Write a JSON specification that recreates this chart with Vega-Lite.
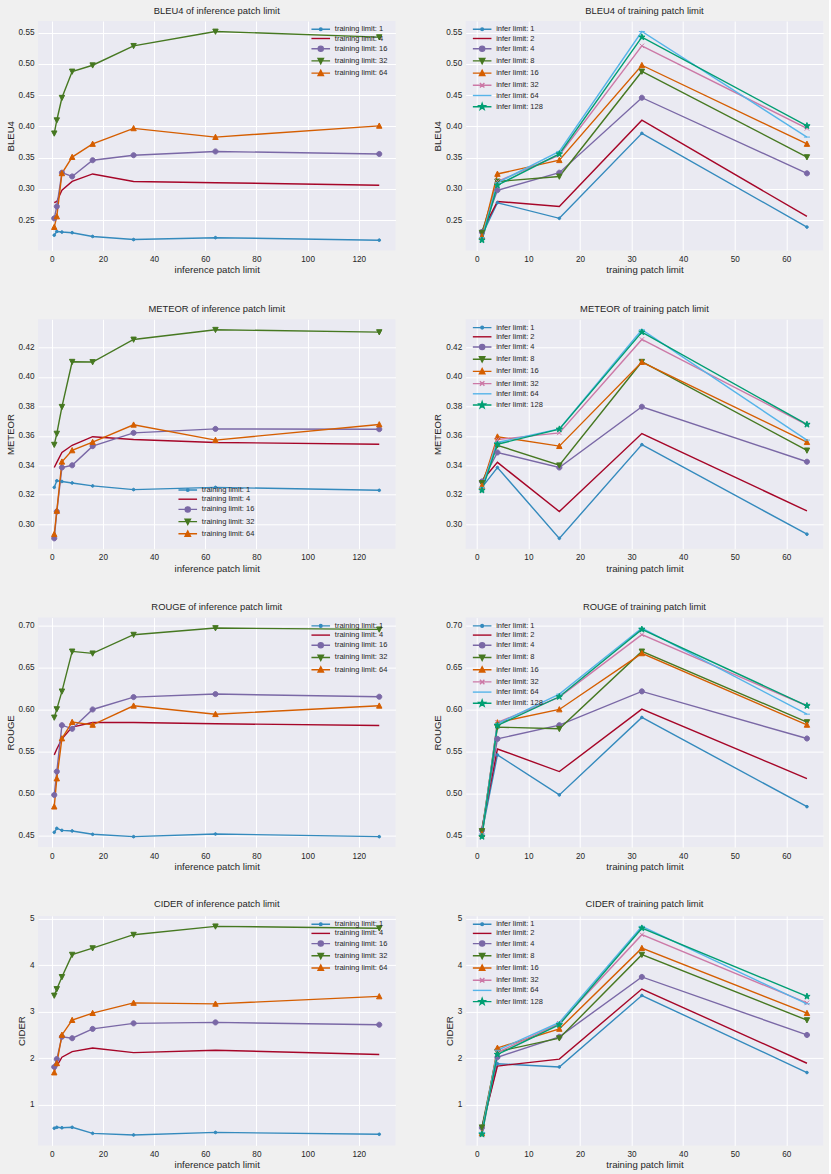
{
"$schema": "https://vega.github.io/schema/vega-lite/v6.json",
"background": "#F0F0F0",
"padding": {"left": 5, "top": 5, "right": 5, "bottom": 5},
"bounds": "flush",
"columns": 2,
"spacing": {"row": 68.3, "column": 69.7},
"datasets": {"s": [
{"m":"BLEU4","t":1,"i":1,"v":0.226},{"m":"BLEU4","t":1,"i":2,"v":0.232},{"m":"BLEU4","t":1,"i":4,"v":0.231},{"m":"BLEU4","t":1,"i":8,"v":0.230},{"m":"BLEU4","t":1,"i":16,"v":0.224},{"m":"BLEU4","t":1,"i":32,"v":0.219},{"m":"BLEU4","t":1,"i":64,"v":0.222},{"m":"BLEU4","t":1,"i":128,"v":0.218},
{"m":"BLEU4","t":4,"i":1,"v":0.278},{"m":"BLEU4","t":4,"i":2,"v":0.280},{"m":"BLEU4","t":4,"i":4,"v":0.298},{"m":"BLEU4","t":4,"i":8,"v":0.312},{"m":"BLEU4","t":4,"i":16,"v":0.324},{"m":"BLEU4","t":4,"i":32,"v":0.312},{"m":"BLEU4","t":4,"i":64,"v":0.310},{"m":"BLEU4","t":4,"i":128,"v":0.306},
{"m":"BLEU4","t":16,"i":1,"v":0.253},{"m":"BLEU4","t":16,"i":2,"v":0.272},{"m":"BLEU4","t":16,"i":4,"v":0.326},{"m":"BLEU4","t":16,"i":8,"v":0.320},{"m":"BLEU4","t":16,"i":16,"v":0.346},{"m":"BLEU4","t":16,"i":32,"v":0.354},{"m":"BLEU4","t":16,"i":64,"v":0.360},{"m":"BLEU4","t":16,"i":128,"v":0.356},
{"m":"BLEU4","t":32,"i":1,"v":0.389},{"m":"BLEU4","t":32,"i":2,"v":0.410},{"m":"BLEU4","t":32,"i":4,"v":0.446},{"m":"BLEU4","t":32,"i":8,"v":0.488},{"m":"BLEU4","t":32,"i":16,"v":0.498},{"m":"BLEU4","t":32,"i":32,"v":0.529},{"m":"BLEU4","t":32,"i":64,"v":0.552},{"m":"BLEU4","t":32,"i":128,"v":0.543},
{"m":"BLEU4","t":64,"i":1,"v":0.239},{"m":"BLEU4","t":64,"i":2,"v":0.256},{"m":"BLEU4","t":64,"i":4,"v":0.325},{"m":"BLEU4","t":64,"i":8,"v":0.351},{"m":"BLEU4","t":64,"i":16,"v":0.372},{"m":"BLEU4","t":64,"i":32,"v":0.397},{"m":"BLEU4","t":64,"i":64,"v":0.383},{"m":"BLEU4","t":64,"i":128,"v":0.401},
{"m":"METEOR","t":1,"i":1,"v":0.325},{"m":"METEOR","t":1,"i":2,"v":0.3295},{"m":"METEOR","t":1,"i":4,"v":0.329},{"m":"METEOR","t":1,"i":8,"v":0.328},{"m":"METEOR","t":1,"i":16,"v":0.326},{"m":"METEOR","t":1,"i":32,"v":0.3235},{"m":"METEOR","t":1,"i":64,"v":0.325},{"m":"METEOR","t":1,"i":128,"v":0.323},
{"m":"METEOR","t":4,"i":1,"v":0.3385},{"m":"METEOR","t":4,"i":2,"v":0.342},{"m":"METEOR","t":4,"i":4,"v":0.3487},{"m":"METEOR","t":4,"i":8,"v":0.3536},{"m":"METEOR","t":4,"i":16,"v":0.3594},{"m":"METEOR","t":4,"i":32,"v":0.3575},{"m":"METEOR","t":4,"i":64,"v":0.3555},{"m":"METEOR","t":4,"i":128,"v":0.3543},
{"m":"METEOR","t":16,"i":1,"v":0.2904},{"m":"METEOR","t":16,"i":2,"v":0.3086},{"m":"METEOR","t":16,"i":4,"v":0.3385},{"m":"METEOR","t":16,"i":8,"v":0.340},{"m":"METEOR","t":16,"i":16,"v":0.353},{"m":"METEOR","t":16,"i":32,"v":0.362},{"m":"METEOR","t":16,"i":64,"v":0.3647},{"m":"METEOR","t":16,"i":128,"v":0.3645},
{"m":"METEOR","t":32,"i":1,"v":0.354},{"m":"METEOR","t":32,"i":2,"v":0.3615},{"m":"METEOR","t":32,"i":4,"v":0.3797},{"m":"METEOR","t":32,"i":8,"v":0.4103},{"m":"METEOR","t":32,"i":16,"v":0.4101},{"m":"METEOR","t":32,"i":32,"v":0.4254},{"m":"METEOR","t":32,"i":64,"v":0.432},{"m":"METEOR","t":32,"i":128,"v":0.4304},
{"m":"METEOR","t":64,"i":1,"v":0.2932},{"m":"METEOR","t":64,"i":2,"v":0.309},{"m":"METEOR","t":64,"i":4,"v":0.3424},{"m":"METEOR","t":64,"i":8,"v":0.3501},{"m":"METEOR","t":64,"i":16,"v":0.3557},{"m":"METEOR","t":64,"i":32,"v":0.3675},{"m":"METEOR","t":64,"i":64,"v":0.3571},{"m":"METEOR","t":64,"i":128,"v":0.3677},
{"m":"ROUGE","t":1,"i":1,"v":0.454},{"m":"ROUGE","t":1,"i":2,"v":0.4587},{"m":"ROUGE","t":1,"i":4,"v":0.4563},{"m":"ROUGE","t":1,"i":8,"v":0.4556},{"m":"ROUGE","t":1,"i":16,"v":0.4516},{"m":"ROUGE","t":1,"i":32,"v":0.4488},{"m":"ROUGE","t":1,"i":64,"v":0.452},{"m":"ROUGE","t":1,"i":128,"v":0.4488},
{"m":"ROUGE","t":4,"i":1,"v":0.546},{"m":"ROUGE","t":4,"i":2,"v":0.553},{"m":"ROUGE","t":4,"i":4,"v":0.565},{"m":"ROUGE","t":4,"i":8,"v":0.579},{"m":"ROUGE","t":4,"i":16,"v":0.5845},{"m":"ROUGE","t":4,"i":32,"v":0.5845},{"m":"ROUGE","t":4,"i":64,"v":0.583},{"m":"ROUGE","t":4,"i":128,"v":0.581},
{"m":"ROUGE","t":16,"i":1,"v":0.4984},{"m":"ROUGE","t":16,"i":2,"v":0.5262},{"m":"ROUGE","t":16,"i":4,"v":0.5813},{"m":"ROUGE","t":16,"i":8,"v":0.577},{"m":"ROUGE","t":16,"i":16,"v":0.600},{"m":"ROUGE","t":16,"i":32,"v":0.6147},{"m":"ROUGE","t":16,"i":64,"v":0.6183},{"m":"ROUGE","t":16,"i":128,"v":0.6151},
{"m":"ROUGE","t":32,"i":1,"v":0.5905},{"m":"ROUGE","t":32,"i":2,"v":0.6004},{"m":"ROUGE","t":32,"i":4,"v":0.6215},{"m":"ROUGE","t":32,"i":8,"v":0.669},{"m":"ROUGE","t":32,"i":16,"v":0.6667},{"m":"ROUGE","t":32,"i":32,"v":0.6889},{"m":"ROUGE","t":32,"i":64,"v":0.6968},{"m":"ROUGE","t":32,"i":128,"v":0.6952},
{"m":"ROUGE","t":64,"i":1,"v":0.4845},{"m":"ROUGE","t":64,"i":2,"v":0.5179},{"m":"ROUGE","t":64,"i":4,"v":0.5655},{"m":"ROUGE","t":64,"i":8,"v":0.585},{"m":"ROUGE","t":64,"i":16,"v":0.5817},{"m":"ROUGE","t":64,"i":32,"v":0.6044},{"m":"ROUGE","t":64,"i":64,"v":0.5944},{"m":"ROUGE","t":64,"i":128,"v":0.6044},
{"m":"CIDER","t":1,"i":1,"v":0.49},{"m":"CIDER","t":1,"i":2,"v":0.51},{"m":"CIDER","t":1,"i":4,"v":0.50},{"m":"CIDER","t":1,"i":8,"v":0.51},{"m":"CIDER","t":1,"i":16,"v":0.38},{"m":"CIDER","t":1,"i":32,"v":0.345},{"m":"CIDER","t":1,"i":64,"v":0.40},{"m":"CIDER","t":1,"i":128,"v":0.36},
{"m":"CIDER","t":4,"i":1,"v":1.88},{"m":"CIDER","t":4,"i":2,"v":1.83},{"m":"CIDER","t":4,"i":4,"v":2.02},{"m":"CIDER","t":4,"i":8,"v":2.14},{"m":"CIDER","t":4,"i":16,"v":2.22},{"m":"CIDER","t":4,"i":32,"v":2.12},{"m":"CIDER","t":4,"i":64,"v":2.17},{"m":"CIDER","t":4,"i":128,"v":2.08},
{"m":"CIDER","t":16,"i":1,"v":1.81},{"m":"CIDER","t":16,"i":2,"v":1.98},{"m":"CIDER","t":16,"i":4,"v":2.46},{"m":"CIDER","t":16,"i":8,"v":2.43},{"m":"CIDER","t":16,"i":16,"v":2.63},{"m":"CIDER","t":16,"i":32,"v":2.75},{"m":"CIDER","t":16,"i":64,"v":2.77},{"m":"CIDER","t":16,"i":128,"v":2.72},
{"m":"CIDER","t":32,"i":1,"v":3.35},{"m":"CIDER","t":32,"i":2,"v":3.49},{"m":"CIDER","t":32,"i":4,"v":3.75},{"m":"CIDER","t":32,"i":8,"v":4.23},{"m":"CIDER","t":32,"i":16,"v":4.37},{"m":"CIDER","t":32,"i":32,"v":4.66},{"m":"CIDER","t":32,"i":64,"v":4.84},{"m":"CIDER","t":32,"i":128,"v":4.80},
{"m":"CIDER","t":64,"i":1,"v":1.69},{"m":"CIDER","t":64,"i":2,"v":1.89},{"m":"CIDER","t":64,"i":4,"v":2.50},{"m":"CIDER","t":64,"i":8,"v":2.82},{"m":"CIDER","t":64,"i":16,"v":2.97},{"m":"CIDER","t":64,"i":32,"v":3.19},{"m":"CIDER","t":64,"i":64,"v":3.17},{"m":"CIDER","t":64,"i":128,"v":3.33}
]},
"resolve": {"scale": {"x": "independent", "y": "independent", "color": "independent", "fill": "independent", "stroke": "independent", "shape": "independent"}},
"concat": [
{
 "width": 357.5, "height": 229.5, "title": "BLEU4 of inference patch limit",
 "data": {"name": "s"}, "transform": [{"filter": "datum.m=='BLEU4'"}],
 "encoding": {
  "x": {"field": "i", "type": "quantitative", "title": "inference patch limit", "scale": {"domain": [-5.35, 134.35], "nice": false, "zero": false}, "axis": {"values": [0,20,40,60,80,100,120], "format": "d"}},
  "y": {"field": "v", "type": "quantitative", "title": "BLEU4", "scale": {"domain": [0.2015, 0.5688], "nice": false, "zero": false}, "axis": {"values": [0.25,0.3,0.35,0.4,0.45,0.5,0.55], "format": ".2f"}}
 },
 "layer": [
  {"mark": {"type": "line", "strokeWidth": 1.4},
   "encoding": {"color": {"field": "t", "type": "nominal", "scale": {"domain": [1,4,16,32,64], "range": ["#348ABD","#A60628","#7A68A6","#467821","#D55E00"]},
    "legend": {"title": null, "orient": "none", "legendX": 273.4, "legendY": 4.3, "labelExpr": "'training limit: ' + datum.label",
     "encode": {"labels": {"update": {"x": {"value": 23.4}}}, "symbols": {"update": {
      "x": {"value": 9.35}, "size": {"value": 36}, "strokeWidth": {"value": 1.4},
      "shape": {"signal": "datum.value==1?'M-3.1,0L3.1,0M-0.45,0A0.45,0.45 0 1,0 0.45,0A0.45,0.45 0 1,0 -0.45,0Z':datum.value==4?'M-3.1,0L3.1,0':datum.value==16?'M-3.1,0L3.1,0M-0.85,0A0.85,0.85 0 1,0 0.85,0A0.85,0.85 0 1,0 -0.85,0Z':datum.value==32?'M-3.1,0L3.1,0M-0.9,-0.8L0.9,-0.8L0,0.95Z':'M-3.1,0L3.1,0M-0.9,0.8L0.9,0.8L0,-0.95Z'"},
      "fill": {"signal": "datum.value==1?'#348ABD':datum.value==4?'#A60628':datum.value==16?'#7A68A6':datum.value==32?'#467821':'#D55E00'"}
     }}}}}}},
  {"mark": {"type": "point", "filled": true, "size": 36, "strokeWidth": 1, "opacity": 1},
   "encoding": {
    "fill": {"field": "t", "type": "nominal", "scale": {"domain": [1,4,16,32,64,-1], "range": ["#348ABD","#A60628","#7A68A6","#467821","#D55E00","#000000"]}, "legend": null},
    "stroke": {"field": "t", "type": "nominal", "scale": {"domain": [1,4,16,32,64,-1], "range": ["#348ABD","#A60628","#7A68A6","#467821","#D55E00","#000000"]}, "legend": null},
    "shape": {"field": "t", "type": "nominal", "scale": {"domain": [1,4,16,32,64,-1], "range": ["M-0.45,0A0.45,0.45 0 1,0 0.45,0A0.45,0.45 0 1,0 -0.45,0Z","M0,0","M-0.85,0A0.85,0.85 0 1,0 0.85,0A0.85,0.85 0 1,0 -0.85,0Z","M-0.9,-0.8L0.9,-0.8L0,0.95Z","M-0.9,0.8L0.9,0.8L0,-0.95Z","M0,0"]}, "legend": null}
   }}
 ]
},
{
 "width": 357.5, "height": 229.5, "title": "BLEU4 of training patch limit",
 "data": {"name": "s"}, "transform": [{"filter": "datum.m=='BLEU4'"}],
 "encoding": {
  "x": {"field": "t", "type": "quantitative", "title": "training patch limit", "scale": {"domain": [-2.15, 67.15], "nice": false, "zero": false}, "axis": {"values": [0,10,20,30,40,50,60], "format": "d"}},
  "y": {"field": "v", "type": "quantitative", "title": "BLEU4", "scale": {"domain": [0.2015, 0.5688], "nice": false, "zero": false}, "axis": {"values": [0.25,0.3,0.35,0.4,0.45,0.5,0.55], "format": ".2f"}}
 },
 "layer": [
  {"mark": {"type": "line", "strokeWidth": 1.4},
   "encoding": {"color": {"field": "i", "type": "nominal", "scale": {"domain": [1,2,4,8,16,32,64,128], "range": ["#348ABD","#A60628","#7A68A6","#467821","#D55E00","#CC79A7","#56B4E9","#009E73"]},
    "legend": {"title": null, "orient": "none", "legendX": 7.1, "legendY": 4.3, "labelExpr": "'infer limit: ' + datum.label",
     "encode": {"labels": {"update": {"x": {"value": 23.4}}}, "symbols": {"update": {
      "x": {"value": 9.35}, "size": {"value": 36}, "strokeWidth": {"value": 1.4},
      "shape": {"signal": "datum.value==1?'M-3.1,0L3.1,0M-0.45,0A0.45,0.45 0 1,0 0.45,0A0.45,0.45 0 1,0 -0.45,0Z':datum.value==2?'M-3.1,0L3.1,0':datum.value==4?'M-3.1,0L3.1,0M-0.85,0A0.85,0.85 0 1,0 0.85,0A0.85,0.85 0 1,0 -0.85,0Z':datum.value==8?'M-3.1,0L3.1,0M-0.9,-0.8L0.9,-0.8L0,0.95Z':datum.value==16?'M-3.1,0L3.1,0M-0.9,0.8L0.9,0.8L0,-0.95Z':datum.value==32?'M-3.1,0L3.1,0M-0.75,-0.75L0.75,0.75M-0.75,0.75L0.75,-0.75':datum.value==64?'M-3.1,0L3.1,0':'M-3.1,0L3.1,0M0,-1.1L0.26,-0.36L1.05,-0.34L0.42,0.14L0.65,0.89L0,0.44L-0.65,0.89L-0.42,0.14L-1.05,-0.34L-0.26,-0.36Z'"},
      "fill": {"signal": "datum.value==1?'#348ABD':datum.value==2?'#A60628':datum.value==4?'#7A68A6':datum.value==8?'#467821':datum.value==16?'#D55E00':datum.value==32?'#CC79A7':datum.value==64?'#56B4E9':'#009E73'"}
     }}}}}}},
  {"mark": {"type": "point", "filled": true, "size": 36, "strokeWidth": 1, "opacity": 1},
   "encoding": {
    "fill": {"field": "i", "type": "nominal", "scale": {"domain": [1,2,4,8,16,32,64,128,-1], "range": ["#348ABD","#A60628","#7A68A6","#467821","#D55E00","#CC79A7","#56B4E9","#009E73","#000000"]}, "legend": null},
    "stroke": {"field": "i", "type": "nominal", "scale": {"domain": [1,2,4,8,16,32,64,128,-1], "range": ["#348ABD","#A60628","#7A68A6","#467821","#D55E00","#CC79A7","#56B4E9","#009E73","#000000"]}, "legend": null},
    "shape": {"field": "i", "type": "nominal", "scale": {"domain": [1,2,4,8,16,32,64,128,-1], "range": ["M-0.45,0A0.45,0.45 0 1,0 0.45,0A0.45,0.45 0 1,0 -0.45,0Z","M0,0","M-0.85,0A0.85,0.85 0 1,0 0.85,0A0.85,0.85 0 1,0 -0.85,0Z","M-0.9,-0.8L0.9,-0.8L0,0.95Z","M-0.9,0.8L0.9,0.8L0,-0.95Z","M-0.75,-0.75L0.75,0.75M-0.75,0.75L0.75,-0.75","M-1,0L1,0","M0,-1.1L0.26,-0.36L1.05,-0.34L0.42,0.14L0.65,0.89L0,0.44L-0.65,0.89L-0.42,0.14L-1.05,-0.34L-0.26,-0.36Z","M0,0"]}, "legend": null}
   }}
 ]
},
{
 "width": 357.5, "height": 229.5, "title": "METEOR of inference patch limit",
 "data": {"name": "s"}, "transform": [{"filter": "datum.m=='METEOR'"}],
 "encoding": {
  "x": {"field": "i", "type": "quantitative", "title": "inference patch limit", "scale": {"domain": [-5.35, 134.35], "nice": false, "zero": false}, "axis": {"values": [0,20,40,60,80,100,120], "format": "d"}},
  "y": {"field": "v", "type": "quantitative", "title": "METEOR", "scale": {"domain": [0.2833, 0.4391], "nice": false, "zero": false}, "axis": {"values": [0.30,0.32,0.34,0.36,0.38,0.40,0.42], "format": ".2f"}}
 },
 "layer": [
  {"mark": {"type": "line", "strokeWidth": 1.4},
   "encoding": {"color": {"field": "t", "type": "nominal", "scale": {"domain": [1,4,16,32,64], "range": ["#348ABD","#A60628","#7A68A6","#467821","#D55E00"]},
    "legend": {"title": null, "orient": "none", "legendX": 140.4, "legendY": 166.7, "labelExpr": "'training limit: ' + datum.label",
     "encode": {"labels": {"update": {"x": {"value": 23.4}}}, "symbols": {"update": {
      "x": {"value": 9.35}, "size": {"value": 36}, "strokeWidth": {"value": 1.4},
      "shape": {"signal": "datum.value==1?'M-3.1,0L3.1,0M-0.45,0A0.45,0.45 0 1,0 0.45,0A0.45,0.45 0 1,0 -0.45,0Z':datum.value==4?'M-3.1,0L3.1,0':datum.value==16?'M-3.1,0L3.1,0M-0.85,0A0.85,0.85 0 1,0 0.85,0A0.85,0.85 0 1,0 -0.85,0Z':datum.value==32?'M-3.1,0L3.1,0M-0.9,-0.8L0.9,-0.8L0,0.95Z':'M-3.1,0L3.1,0M-0.9,0.8L0.9,0.8L0,-0.95Z'"},
      "fill": {"signal": "datum.value==1?'#348ABD':datum.value==4?'#A60628':datum.value==16?'#7A68A6':datum.value==32?'#467821':'#D55E00'"}
     }}}}}}},
  {"mark": {"type": "point", "filled": true, "size": 36, "strokeWidth": 1, "opacity": 1},
   "encoding": {
    "fill": {"field": "t", "type": "nominal", "scale": {"domain": [1,4,16,32,64,-1], "range": ["#348ABD","#A60628","#7A68A6","#467821","#D55E00","#000000"]}, "legend": null},
    "stroke": {"field": "t", "type": "nominal", "scale": {"domain": [1,4,16,32,64,-1], "range": ["#348ABD","#A60628","#7A68A6","#467821","#D55E00","#000000"]}, "legend": null},
    "shape": {"field": "t", "type": "nominal", "scale": {"domain": [1,4,16,32,64,-1], "range": ["M-0.45,0A0.45,0.45 0 1,0 0.45,0A0.45,0.45 0 1,0 -0.45,0Z","M0,0","M-0.85,0A0.85,0.85 0 1,0 0.85,0A0.85,0.85 0 1,0 -0.85,0Z","M-0.9,-0.8L0.9,-0.8L0,0.95Z","M-0.9,0.8L0.9,0.8L0,-0.95Z","M0,0"]}, "legend": null}
   }}
 ]
},
{
 "width": 357.5, "height": 229.5, "title": "METEOR of training patch limit",
 "data": {"name": "s"}, "transform": [{"filter": "datum.m=='METEOR'"}],
 "encoding": {
  "x": {"field": "t", "type": "quantitative", "title": "training patch limit", "scale": {"domain": [-2.15, 67.15], "nice": false, "zero": false}, "axis": {"values": [0,10,20,30,40,50,60], "format": "d"}},
  "y": {"field": "v", "type": "quantitative", "title": "METEOR", "scale": {"domain": [0.2833, 0.4391], "nice": false, "zero": false}, "axis": {"values": [0.30,0.32,0.34,0.36,0.38,0.40,0.42], "format": ".2f"}}
 },
 "layer": [
  {"mark": {"type": "line", "strokeWidth": 1.4},
   "encoding": {"color": {"field": "i", "type": "nominal", "scale": {"domain": [1,2,4,8,16,32,64,128], "range": ["#348ABD","#A60628","#7A68A6","#467821","#D55E00","#CC79A7","#56B4E9","#009E73"]},
    "legend": {"title": null, "orient": "none", "legendX": 7.1, "legendY": 4.3, "labelExpr": "'infer limit: ' + datum.label",
     "encode": {"labels": {"update": {"x": {"value": 23.4}}}, "symbols": {"update": {
      "x": {"value": 9.35}, "size": {"value": 36}, "strokeWidth": {"value": 1.4},
      "shape": {"signal": "datum.value==1?'M-3.1,0L3.1,0M-0.45,0A0.45,0.45 0 1,0 0.45,0A0.45,0.45 0 1,0 -0.45,0Z':datum.value==2?'M-3.1,0L3.1,0':datum.value==4?'M-3.1,0L3.1,0M-0.85,0A0.85,0.85 0 1,0 0.85,0A0.85,0.85 0 1,0 -0.85,0Z':datum.value==8?'M-3.1,0L3.1,0M-0.9,-0.8L0.9,-0.8L0,0.95Z':datum.value==16?'M-3.1,0L3.1,0M-0.9,0.8L0.9,0.8L0,-0.95Z':datum.value==32?'M-3.1,0L3.1,0M-0.75,-0.75L0.75,0.75M-0.75,0.75L0.75,-0.75':datum.value==64?'M-3.1,0L3.1,0':'M-3.1,0L3.1,0M0,-1.1L0.26,-0.36L1.05,-0.34L0.42,0.14L0.65,0.89L0,0.44L-0.65,0.89L-0.42,0.14L-1.05,-0.34L-0.26,-0.36Z'"},
      "fill": {"signal": "datum.value==1?'#348ABD':datum.value==2?'#A60628':datum.value==4?'#7A68A6':datum.value==8?'#467821':datum.value==16?'#D55E00':datum.value==32?'#CC79A7':datum.value==64?'#56B4E9':'#009E73'"}
     }}}}}}},
  {"mark": {"type": "point", "filled": true, "size": 36, "strokeWidth": 1, "opacity": 1},
   "encoding": {
    "fill": {"field": "i", "type": "nominal", "scale": {"domain": [1,2,4,8,16,32,64,128,-1], "range": ["#348ABD","#A60628","#7A68A6","#467821","#D55E00","#CC79A7","#56B4E9","#009E73","#000000"]}, "legend": null},
    "stroke": {"field": "i", "type": "nominal", "scale": {"domain": [1,2,4,8,16,32,64,128,-1], "range": ["#348ABD","#A60628","#7A68A6","#467821","#D55E00","#CC79A7","#56B4E9","#009E73","#000000"]}, "legend": null},
    "shape": {"field": "i", "type": "nominal", "scale": {"domain": [1,2,4,8,16,32,64,128,-1], "range": ["M-0.45,0A0.45,0.45 0 1,0 0.45,0A0.45,0.45 0 1,0 -0.45,0Z","M0,0","M-0.85,0A0.85,0.85 0 1,0 0.85,0A0.85,0.85 0 1,0 -0.85,0Z","M-0.9,-0.8L0.9,-0.8L0,0.95Z","M-0.9,0.8L0.9,0.8L0,-0.95Z","M-0.75,-0.75L0.75,0.75M-0.75,0.75L0.75,-0.75","M-1,0L1,0","M0,-1.1L0.26,-0.36L1.05,-0.34L0.42,0.14L0.65,0.89L0,0.44L-0.65,0.89L-0.42,0.14L-1.05,-0.34L-0.26,-0.36Z","M0,0"]}, "legend": null}
   }}
 ]
},
{
 "width": 357.5, "height": 229.5, "title": "ROUGE of inference patch limit",
 "data": {"name": "s"}, "transform": [{"filter": "datum.m=='ROUGE'"}],
 "encoding": {
  "x": {"field": "i", "type": "quantitative", "title": "inference patch limit", "scale": {"domain": [-5.35, 134.35], "nice": false, "zero": false}, "axis": {"values": [0,20,40,60,80,100,120], "format": "d"}},
  "y": {"field": "v", "type": "quantitative", "title": "ROUGE", "scale": {"domain": [0.4364, 0.7092], "nice": false, "zero": false}, "axis": {"values": [0.45,0.5,0.55,0.6,0.65,0.7], "format": ".2f"}}
 },
 "layer": [
  {"mark": {"type": "line", "strokeWidth": 1.4},
   "encoding": {"color": {"field": "t", "type": "nominal", "scale": {"domain": [1,4,16,32,64], "range": ["#348ABD","#A60628","#7A68A6","#467821","#D55E00"]},
    "legend": {"title": null, "orient": "none", "legendX": 273.4, "legendY": 4.3, "labelExpr": "'training limit: ' + datum.label",
     "encode": {"labels": {"update": {"x": {"value": 23.4}}}, "symbols": {"update": {
      "x": {"value": 9.35}, "size": {"value": 36}, "strokeWidth": {"value": 1.4},
      "shape": {"signal": "datum.value==1?'M-3.1,0L3.1,0M-0.45,0A0.45,0.45 0 1,0 0.45,0A0.45,0.45 0 1,0 -0.45,0Z':datum.value==4?'M-3.1,0L3.1,0':datum.value==16?'M-3.1,0L3.1,0M-0.85,0A0.85,0.85 0 1,0 0.85,0A0.85,0.85 0 1,0 -0.85,0Z':datum.value==32?'M-3.1,0L3.1,0M-0.9,-0.8L0.9,-0.8L0,0.95Z':'M-3.1,0L3.1,0M-0.9,0.8L0.9,0.8L0,-0.95Z'"},
      "fill": {"signal": "datum.value==1?'#348ABD':datum.value==4?'#A60628':datum.value==16?'#7A68A6':datum.value==32?'#467821':'#D55E00'"}
     }}}}}}},
  {"mark": {"type": "point", "filled": true, "size": 36, "strokeWidth": 1, "opacity": 1},
   "encoding": {
    "fill": {"field": "t", "type": "nominal", "scale": {"domain": [1,4,16,32,64,-1], "range": ["#348ABD","#A60628","#7A68A6","#467821","#D55E00","#000000"]}, "legend": null},
    "stroke": {"field": "t", "type": "nominal", "scale": {"domain": [1,4,16,32,64,-1], "range": ["#348ABD","#A60628","#7A68A6","#467821","#D55E00","#000000"]}, "legend": null},
    "shape": {"field": "t", "type": "nominal", "scale": {"domain": [1,4,16,32,64,-1], "range": ["M-0.45,0A0.45,0.45 0 1,0 0.45,0A0.45,0.45 0 1,0 -0.45,0Z","M0,0","M-0.85,0A0.85,0.85 0 1,0 0.85,0A0.85,0.85 0 1,0 -0.85,0Z","M-0.9,-0.8L0.9,-0.8L0,0.95Z","M-0.9,0.8L0.9,0.8L0,-0.95Z","M0,0"]}, "legend": null}
   }}
 ]
},
{
 "width": 357.5, "height": 229.5, "title": "ROUGE of training patch limit",
 "data": {"name": "s"}, "transform": [{"filter": "datum.m=='ROUGE'"}],
 "encoding": {
  "x": {"field": "t", "type": "quantitative", "title": "training patch limit", "scale": {"domain": [-2.15, 67.15], "nice": false, "zero": false}, "axis": {"values": [0,10,20,30,40,50,60], "format": "d"}},
  "y": {"field": "v", "type": "quantitative", "title": "ROUGE", "scale": {"domain": [0.4364, 0.7092], "nice": false, "zero": false}, "axis": {"values": [0.45,0.5,0.55,0.6,0.65,0.7], "format": ".2f"}}
 },
 "layer": [
  {"mark": {"type": "line", "strokeWidth": 1.4},
   "encoding": {"color": {"field": "i", "type": "nominal", "scale": {"domain": [1,2,4,8,16,32,64,128], "range": ["#348ABD","#A60628","#7A68A6","#467821","#D55E00","#CC79A7","#56B4E9","#009E73"]},
    "legend": {"title": null, "orient": "none", "legendX": 7.1, "legendY": 4.3, "labelExpr": "'infer limit: ' + datum.label",
     "encode": {"labels": {"update": {"x": {"value": 23.4}}}, "symbols": {"update": {
      "x": {"value": 9.35}, "size": {"value": 36}, "strokeWidth": {"value": 1.4},
      "shape": {"signal": "datum.value==1?'M-3.1,0L3.1,0M-0.45,0A0.45,0.45 0 1,0 0.45,0A0.45,0.45 0 1,0 -0.45,0Z':datum.value==2?'M-3.1,0L3.1,0':datum.value==4?'M-3.1,0L3.1,0M-0.85,0A0.85,0.85 0 1,0 0.85,0A0.85,0.85 0 1,0 -0.85,0Z':datum.value==8?'M-3.1,0L3.1,0M-0.9,-0.8L0.9,-0.8L0,0.95Z':datum.value==16?'M-3.1,0L3.1,0M-0.9,0.8L0.9,0.8L0,-0.95Z':datum.value==32?'M-3.1,0L3.1,0M-0.75,-0.75L0.75,0.75M-0.75,0.75L0.75,-0.75':datum.value==64?'M-3.1,0L3.1,0':'M-3.1,0L3.1,0M0,-1.1L0.26,-0.36L1.05,-0.34L0.42,0.14L0.65,0.89L0,0.44L-0.65,0.89L-0.42,0.14L-1.05,-0.34L-0.26,-0.36Z'"},
      "fill": {"signal": "datum.value==1?'#348ABD':datum.value==2?'#A60628':datum.value==4?'#7A68A6':datum.value==8?'#467821':datum.value==16?'#D55E00':datum.value==32?'#CC79A7':datum.value==64?'#56B4E9':'#009E73'"}
     }}}}}}},
  {"mark": {"type": "point", "filled": true, "size": 36, "strokeWidth": 1, "opacity": 1},
   "encoding": {
    "fill": {"field": "i", "type": "nominal", "scale": {"domain": [1,2,4,8,16,32,64,128,-1], "range": ["#348ABD","#A60628","#7A68A6","#467821","#D55E00","#CC79A7","#56B4E9","#009E73","#000000"]}, "legend": null},
    "stroke": {"field": "i", "type": "nominal", "scale": {"domain": [1,2,4,8,16,32,64,128,-1], "range": ["#348ABD","#A60628","#7A68A6","#467821","#D55E00","#CC79A7","#56B4E9","#009E73","#000000"]}, "legend": null},
    "shape": {"field": "i", "type": "nominal", "scale": {"domain": [1,2,4,8,16,32,64,128,-1], "range": ["M-0.45,0A0.45,0.45 0 1,0 0.45,0A0.45,0.45 0 1,0 -0.45,0Z","M0,0","M-0.85,0A0.85,0.85 0 1,0 0.85,0A0.85,0.85 0 1,0 -0.85,0Z","M-0.9,-0.8L0.9,-0.8L0,0.95Z","M-0.9,0.8L0.9,0.8L0,-0.95Z","M-0.75,-0.75L0.75,0.75M-0.75,0.75L0.75,-0.75","M-1,0L1,0","M0,-1.1L0.26,-0.36L1.05,-0.34L0.42,0.14L0.65,0.89L0,0.44L-0.65,0.89L-0.42,0.14L-1.05,-0.34L-0.26,-0.36Z","M0,0"]}, "legend": null}
   }}
 ]
},
{
 "width": 357.5, "height": 229.5, "title": "CIDER of inference patch limit",
 "data": {"name": "s"}, "transform": [{"filter": "datum.m=='CIDER'"}],
 "encoding": {
  "x": {"field": "i", "type": "quantitative", "title": "inference patch limit", "scale": {"domain": [-5.35, 134.35], "nice": false, "zero": false}, "axis": {"values": [0,20,40,60,80,100,120], "format": "d"}},
  "y": {"field": "v", "type": "quantitative", "title": "CIDER", "scale": {"domain": [0.12, 5.065], "nice": false, "zero": false}, "axis": {"values": [1,2,3,4,5], "format": "d"}}
 },
 "layer": [
  {"mark": {"type": "line", "strokeWidth": 1.4},
   "encoding": {"color": {"field": "t", "type": "nominal", "scale": {"domain": [1,4,16,32,64], "range": ["#348ABD","#A60628","#7A68A6","#467821","#D55E00"]},
    "legend": {"title": null, "orient": "none", "legendX": 273.4, "legendY": 4.3, "labelExpr": "'training limit: ' + datum.label",
     "encode": {"labels": {"update": {"x": {"value": 23.4}}}, "symbols": {"update": {
      "x": {"value": 9.35}, "size": {"value": 36}, "strokeWidth": {"value": 1.4},
      "shape": {"signal": "datum.value==1?'M-3.1,0L3.1,0M-0.45,0A0.45,0.45 0 1,0 0.45,0A0.45,0.45 0 1,0 -0.45,0Z':datum.value==4?'M-3.1,0L3.1,0':datum.value==16?'M-3.1,0L3.1,0M-0.85,0A0.85,0.85 0 1,0 0.85,0A0.85,0.85 0 1,0 -0.85,0Z':datum.value==32?'M-3.1,0L3.1,0M-0.9,-0.8L0.9,-0.8L0,0.95Z':'M-3.1,0L3.1,0M-0.9,0.8L0.9,0.8L0,-0.95Z'"},
      "fill": {"signal": "datum.value==1?'#348ABD':datum.value==4?'#A60628':datum.value==16?'#7A68A6':datum.value==32?'#467821':'#D55E00'"}
     }}}}}}},
  {"mark": {"type": "point", "filled": true, "size": 36, "strokeWidth": 1, "opacity": 1},
   "encoding": {
    "fill": {"field": "t", "type": "nominal", "scale": {"domain": [1,4,16,32,64,-1], "range": ["#348ABD","#A60628","#7A68A6","#467821","#D55E00","#000000"]}, "legend": null},
    "stroke": {"field": "t", "type": "nominal", "scale": {"domain": [1,4,16,32,64,-1], "range": ["#348ABD","#A60628","#7A68A6","#467821","#D55E00","#000000"]}, "legend": null},
    "shape": {"field": "t", "type": "nominal", "scale": {"domain": [1,4,16,32,64,-1], "range": ["M-0.45,0A0.45,0.45 0 1,0 0.45,0A0.45,0.45 0 1,0 -0.45,0Z","M0,0","M-0.85,0A0.85,0.85 0 1,0 0.85,0A0.85,0.85 0 1,0 -0.85,0Z","M-0.9,-0.8L0.9,-0.8L0,0.95Z","M-0.9,0.8L0.9,0.8L0,-0.95Z","M0,0"]}, "legend": null}
   }}
 ]
},
{
 "width": 357.5, "height": 229.5, "title": "CIDER of training patch limit",
 "data": {"name": "s"}, "transform": [{"filter": "datum.m=='CIDER'"}],
 "encoding": {
  "x": {"field": "t", "type": "quantitative", "title": "training patch limit", "scale": {"domain": [-2.15, 67.15], "nice": false, "zero": false}, "axis": {"values": [0,10,20,30,40,50,60], "format": "d"}},
  "y": {"field": "v", "type": "quantitative", "title": "CIDER", "scale": {"domain": [0.12, 5.065], "nice": false, "zero": false}, "axis": {"values": [1,2,3,4,5], "format": "d"}}
 },
 "layer": [
  {"mark": {"type": "line", "strokeWidth": 1.4},
   "encoding": {"color": {"field": "i", "type": "nominal", "scale": {"domain": [1,2,4,8,16,32,64,128], "range": ["#348ABD","#A60628","#7A68A6","#467821","#D55E00","#CC79A7","#56B4E9","#009E73"]},
    "legend": {"title": null, "orient": "none", "legendX": 7.1, "legendY": 4.3, "labelExpr": "'infer limit: ' + datum.label",
     "encode": {"labels": {"update": {"x": {"value": 23.4}}}, "symbols": {"update": {
      "x": {"value": 9.35}, "size": {"value": 36}, "strokeWidth": {"value": 1.4},
      "shape": {"signal": "datum.value==1?'M-3.1,0L3.1,0M-0.45,0A0.45,0.45 0 1,0 0.45,0A0.45,0.45 0 1,0 -0.45,0Z':datum.value==2?'M-3.1,0L3.1,0':datum.value==4?'M-3.1,0L3.1,0M-0.85,0A0.85,0.85 0 1,0 0.85,0A0.85,0.85 0 1,0 -0.85,0Z':datum.value==8?'M-3.1,0L3.1,0M-0.9,-0.8L0.9,-0.8L0,0.95Z':datum.value==16?'M-3.1,0L3.1,0M-0.9,0.8L0.9,0.8L0,-0.95Z':datum.value==32?'M-3.1,0L3.1,0M-0.75,-0.75L0.75,0.75M-0.75,0.75L0.75,-0.75':datum.value==64?'M-3.1,0L3.1,0':'M-3.1,0L3.1,0M0,-1.1L0.26,-0.36L1.05,-0.34L0.42,0.14L0.65,0.89L0,0.44L-0.65,0.89L-0.42,0.14L-1.05,-0.34L-0.26,-0.36Z'"},
      "fill": {"signal": "datum.value==1?'#348ABD':datum.value==2?'#A60628':datum.value==4?'#7A68A6':datum.value==8?'#467821':datum.value==16?'#D55E00':datum.value==32?'#CC79A7':datum.value==64?'#56B4E9':'#009E73'"}
     }}}}}}},
  {"mark": {"type": "point", "filled": true, "size": 36, "strokeWidth": 1, "opacity": 1},
   "encoding": {
    "fill": {"field": "i", "type": "nominal", "scale": {"domain": [1,2,4,8,16,32,64,128,-1], "range": ["#348ABD","#A60628","#7A68A6","#467821","#D55E00","#CC79A7","#56B4E9","#009E73","#000000"]}, "legend": null},
    "stroke": {"field": "i", "type": "nominal", "scale": {"domain": [1,2,4,8,16,32,64,128,-1], "range": ["#348ABD","#A60628","#7A68A6","#467821","#D55E00","#CC79A7","#56B4E9","#009E73","#000000"]}, "legend": null},
    "shape": {"field": "i", "type": "nominal", "scale": {"domain": [1,2,4,8,16,32,64,128,-1], "range": ["M-0.45,0A0.45,0.45 0 1,0 0.45,0A0.45,0.45 0 1,0 -0.45,0Z","M0,0","M-0.85,0A0.85,0.85 0 1,0 0.85,0A0.85,0.85 0 1,0 -0.85,0Z","M-0.9,-0.8L0.9,-0.8L0,0.95Z","M-0.9,0.8L0.9,0.8L0,-0.95Z","M-0.75,-0.75L0.75,0.75M-0.75,0.75L0.75,-0.75","M-1,0L1,0","M0,-1.1L0.26,-0.36L1.05,-0.34L0.42,0.14L0.65,0.89L0,0.44L-0.65,0.89L-0.42,0.14L-1.05,-0.34L-0.26,-0.36Z","M0,0"]}, "legend": null}
   }}
 ]
}
],
"config": {
 "font": "Liberation Sans",
 "view": {"fill": "#EAEAF2", "stroke": null},
 "axis": {"grid": true, "gridColor": "#FFFFFF", "gridWidth": 1, "gridOpacity": 1, "domain": false, "ticks": false, "labelFontSize": 8.2, "labelColor": "#262626", "labelPadding": 4, "titleFontSize": 9.6, "titleFontWeight": "normal", "titleColor": "#262626", "titlePadding": 3, "labelOverlap": false},
 "axisX": {"labelPadding": 5, "titlePadding": 2},
 "title": {"fontSize": 9.4, "fontWeight": "normal", "color": "#262626", "offset": 5},
 "legend": {"labelFontSize": 7.5, "labelColor": "#262626", "symbolSize": 36, "symbolStrokeWidth": 1.4, "symbolOffset": 0, "labelOffset": 16, "rowPadding": 0.2, "padding": 0}
}
}
